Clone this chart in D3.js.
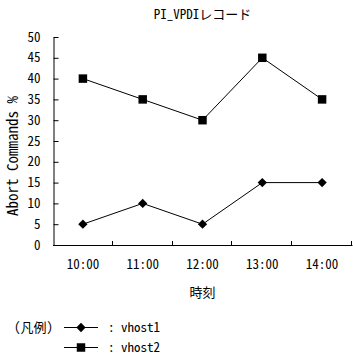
<!DOCTYPE html>
<html>
<head>
<meta charset="utf-8">
<script src="https://cdn.jsdelivr.net/npm/d3@7"></script>
<style>
  body { margin: 0; background: #fff; }
  text { font-family: "Noto Sans Mono CJK JP", "Noto Sans CJK JP", monospace; fill: #000; }
</style>
</head>
<body>
<div id="chart-area"></div>
<script>
// chart data
var times = ["10:00", "11:00", "12:00", "13:00", "14:00"];
var vhost1 = [5, 10, 5, 15, 15];
var vhost2 = [40, 35, 30, 45, 35];
var yTicks = [0, 5, 10, 15, 20, 25, 30, 35, 40, 45, 50];
var seriesNames = ["vhost1", "vhost2"];

var svg = d3.select("#chart-area").append("svg")
            .attr("width", 353)
            .attr("height", 360);

var plotLeft = 53, plotRight = 352, plotTop = 37, plotBottom = 245;

var x = d3.scaleBand()
          .domain(times)
          .range([plotLeft, plotRight]);

var y = d3.scaleLinear()
          .domain([0, 50])
          .range([plotBottom, plotTop]);

// title
svg.append("text")
   .attr("x", (plotLeft + plotRight) / 2)
   .attr("y", 19)
   .attr("text-anchor", "middle")
   .style("font-size", "13px")
   .text("PI_VPDIレコード");

// y axis, ticks pointing inward
var yAxis = svg.append("g")
               .attr("transform", "translate(" + (plotLeft + 0.5) + ",0)")
               .call(d3.axisLeft(y).tickValues(yTicks).tickSizeInner(-5).tickSizeOuter(0).tickPadding(13));
yAxis.selectAll("text").style("font-size", "13px");

// x axis, labels only
var xAxis = svg.append("g")
               .attr("transform", "translate(0," + (plotBottom + 0.5) + ")")
               .call(d3.axisBottom(x).tickSize(0).tickPadding(14));
xAxis.selectAll("text").style("font-size", "13px");
xAxis.select(".domain").remove();

svg.append("line")
   .attr("x1", plotLeft).attr("x2", plotRight + 0.5)
   .attr("y1", plotBottom + 0.5).attr("y2", plotBottom + 0.5)
   .attr("stroke", "#000");

// boundary ticks on x axis
svg.selectAll(".xtick")
   .data(times)
   .enter()
   .append("line")
     .attr("class", "xtick")
     .attr("x1", (d) => Math.round(x(d) + x.bandwidth()) - 0.5)
     .attr("x2", (d) => Math.round(x(d) + x.bandwidth()) - 0.5)
     .attr("y1", plotBottom)
     .attr("y2", plotBottom - 4)
     .attr("stroke", "#000");

svg.selectAll(".domain, .tick line").attr("stroke", "#000");

// axis titles
svg.append("text")
   .attr("transform", "translate(18,156) rotate(-90)")
   .attr("text-anchor", "middle")
   .style("font-size", "15px")
   .text("Abort Commands %");

svg.append("text")
   .attr("x", (plotLeft + plotRight) / 2)
   .attr("y", 297)
   .attr("text-anchor", "middle")
   .style("font-size", "13px")
   .text("時刻");

// lines
var line = d3.line()
             .x((d, i) => x(times[i]) + x.bandwidth() / 2)
             .y((d) => y(d));

svg.append("path")
   .datum(vhost1)
   .attr("d", line)
   .attr("fill", "none")
   .attr("stroke", "#000")
   .attr("stroke-width", 1);

svg.append("path")
   .datum(vhost2)
   .attr("d", line)
   .attr("fill", "none")
   .attr("stroke", "#000")
   .attr("stroke-width", 1);

var diamond = d3.symbol().type(d3.symbolDiamond2).size(55);
var square = d3.symbol().type(d3.symbolSquare).size(72);

svg.selectAll(".m1")
   .data(vhost1)
   .enter()
   .append("path")
     .attr("class", "m1")
     .attr("d", diamond)
     .attr("transform", (d, i) => "translate(" + (x(times[i]) + x.bandwidth() / 2) + "," + y(d) + ")")
     .attr("fill", "#000");

svg.selectAll(".m2")
   .data(vhost2)
   .enter()
   .append("path")
     .attr("class", "m2")
     .attr("d", square)
     .attr("transform", (d, i) => "translate(" + (x(times[i]) + x.bandwidth() / 2) + "," + y(d) + ")")
     .attr("fill", "#000");

// legend
svg.append("text")
   .attr("x", 14)
   .attr("y", 332)
   .style("font-size", "13px")
   .text("(凡例)");

var legend = svg.selectAll(".legend")
                .data(seriesNames)
                .enter()
                .append("g")
                  .attr("class", "legend")
                  .attr("transform", (d, i) => "translate(0," + (327 + i * 20) + ")");

legend.append("line")
      .attr("x1", 64).attr("x2", 98)
      .attr("y1", 0.5).attr("y2", 0.5)
      .attr("stroke", "#000");

legend.append("path")
      .attr("d", (d, i) => i === 0 ? diamond() : square())
      .attr("transform", "translate(81,0.5)")
      .attr("fill", "#000");

legend.append("text")
      .attr("x", 108)
      .attr("y", 5)
      .style("font-size", "13px")
      .text((d) => ": " + d);
</script>
</body>
</html>
